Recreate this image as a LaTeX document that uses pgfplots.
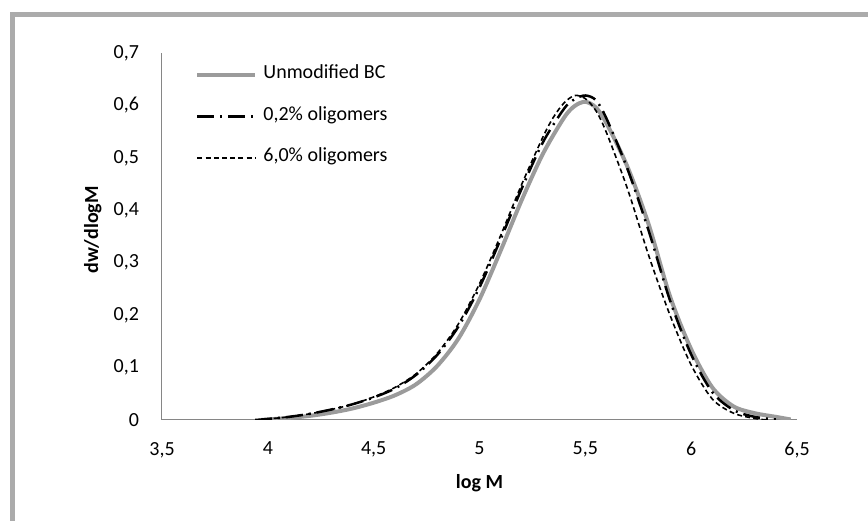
\documentclass[border=0pt]{standalone}
\usepackage{fontspec}
\setmainfont{Carlito}
\usepackage{pgfplots}
\pgfplotsset{compat=1.18}
\definecolor{bcgray}{HTML}{9B9B9B}
\definecolor{axgray}{HTML}{868686}
\definecolor{framegray}{HTML}{ABABAB}

\begin{document}
\begin{tikzpicture}
\useasboundingbox (0,0) rectangle (434pt,260pt);
% chart-area frame (only top and left edges are inside the picture)
\draw[framegray, line width=2.5pt, line join=miter] (6pt,-10pt) -- (6pt,252.75pt) -- (450pt,252.75pt);
\begin{axis}[
  scale only axis, width=317.5pt, height=183.5pt,
  at={(81pt,50pt)}, anchor=south west,
  xmin=3.5, xmax=6.5, ymin=0, ymax=0.7,
  xtick={3.5,4,4.5,5,5.5,6,6.5},
  ytick={0,0.1,0.2,0.3,0.4,0.5,0.6,0.7},
  axis x line=bottom, axis y line=left,
  axis line style={-, draw=axgray, line width=0.5pt},
  major tick length=0pt,
  /pgf/number format/use comma,
  /pgf/number format/fixed,
  /pgf/number format/assume math mode=true,
  tick label style={font=\fontsize{10}{12}\selectfont},
  xticklabel style={yshift=-7.5pt},
  yticklabel style={xshift=-8pt},
  xlabel={log M}, ylabel={dw/dlogM},
  every axis x label/.style={at={(axis description cs:0.5,-0.172)}, anchor=center,
                             font=\fontsize{10}{12}\selectfont\bfseries},
  every axis y label/.style={at={(axis description cs:-0.109,0.518)}, anchor=center, rotate=90,
                             font=\fontsize{10}{12}\selectfont\bfseries},
  legend style={at={(axis description cs:0.052,0.969)}, anchor=north west,
                draw=none, fill=none, inner sep=0pt, row sep=10.75pt, column sep=3pt,
                font=\fontsize{10}{12}\selectfont,
                nodes={inner sep=0pt, text height=7pt, text depth=3pt}},
  legend cell align=left,
  legend image code/.code={\draw[#1] (0pt,0pt) -- (29pt,0pt);},
]
% Unmodified BC
\addplot[bcgray, line width=2pt, smooth] coordinates {
 (3.97,0)(4.0,0.001)(4.1,0.004)(4.2,0.008)(4.3,0.014)(4.4,0.022)(4.5,0.033)
 (4.6,0.047)(4.7,0.068)(4.8,0.103)(4.9,0.155)(5.0,0.23)(5.1,0.323)(5.2,0.42)
 (5.3,0.508)(5.4,0.577)(5.45,0.599)(5.5,0.607)(5.55,0.596)(5.6,0.566)(5.7,0.482)
 (5.8,0.372)(5.9,0.236)(6.0,0.135)(6.1,0.062)(6.2,0.026)(6.3,0.013)(6.4,0.006)(6.47,0.001)};
\addlegendentry{Unmodified BC}
% 0,2% oligomers
\addplot[black, line width=1.25pt, dash pattern=on 8.5pt off 3pt on 1pt off 3pt, smooth] coordinates {
 (3.94,0)(4.0,0.002)(4.1,0.006)(4.2,0.012)(4.3,0.02)(4.4,0.03)(4.5,0.043)
 (4.6,0.06)(4.7,0.086)(4.8,0.124)(4.9,0.178)(5.0,0.253)(5.1,0.345)(5.2,0.442)
 (5.3,0.53)(5.4,0.594)(5.45,0.612)(5.5,0.619)(5.55,0.61)(5.6,0.575)(5.7,0.478)
 (5.8,0.36)(5.9,0.228)(6.0,0.125)(6.1,0.053)(6.2,0.019)(6.3,0.006)(6.4,0.001)};
\addlegendentry{0,2\% oligomers}
% 6,0% oligomers
\addplot[black, line width=0.8pt, dash pattern=on 2.5pt off 1.6pt, smooth] coordinates {
 (3.95,0)(4.0,0.002)(4.1,0.006)(4.2,0.012)(4.3,0.02)(4.4,0.03)(4.5,0.044)
 (4.6,0.062)(4.7,0.088)(4.8,0.127)(4.9,0.183)(5.0,0.26)(5.1,0.352)(5.2,0.45)
 (5.3,0.54)(5.35,0.578)(5.4,0.605)(5.45,0.619)(5.5,0.613)(5.55,0.59)(5.6,0.548)
 (5.7,0.44)(5.8,0.313)(5.9,0.2)(6.0,0.105)(6.1,0.04)(6.2,0.013)(6.3,0.003)(6.36,0)};
\addlegendentry{6,0\% oligomers}
\end{axis}
\end{tikzpicture}
\end{document}
